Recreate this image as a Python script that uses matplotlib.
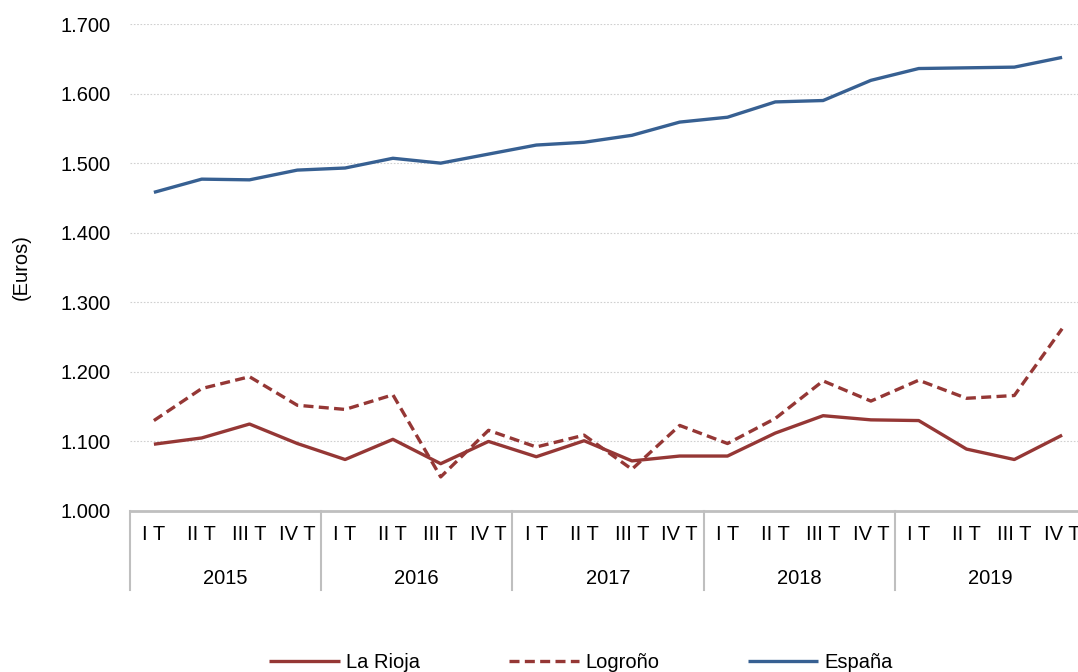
import matplotlib
matplotlib.use("Agg")
import matplotlib.pyplot as plt
import matplotlib.transforms as mtransforms
from matplotlib.ticker import FuncFormatter
import numpy as np

plt.rcParams['font.family'] = ['Liberation Sans', 'DejaVu Sans']

# Data (euros per quarter)
years = ["2015", "2016", "2017", "2018", "2019"]
quarters = ["I T", "II T", "III T", "IV T"]
la_rioja = [1096, 1105, 1125, 1097, 1074, 1103, 1068, 1100, 1078, 1101,
            1072, 1079, 1079, 1112, 1137, 1131, 1130, 1089, 1074, 1109]
logrono = [1130, 1176, 1193, 1152, 1146, 1167, 1049, 1116, 1092, 1109,
           1060, 1123, 1097, 1133, 1187, 1158, 1188, 1162, 1166, 1262]
espana = [1458, 1477, 1476, 1490, 1493, 1507, 1500, 1513, 1526, 1530,
          1540, 1559, 1566, 1588, 1590, 1619, 1636, 1637, 1638, 1652]

red = "#953735"
blue = "#376092"
grey = "#bfbfbf"
fs = 14.5

fig = plt.figure(figsize=(10.78, 6.72), dpi=100)
ax = fig.add_axes([130 / 1078, 1 - 511 / 672, 956 / 1078, 487 / 672])

x = np.arange(len(espana))
ax.plot(x, la_rioja, color=red, lw=2.4, label="La Rioja", solid_capstyle="butt")
ax.plot(x, logrono, color=red, lw=2.4, ls=(0, (3, 1.6)), label="Logroño")
ax.plot(x, espana, color=blue, lw=2.4, label="España", solid_capstyle="butt")

ax.set_xlim(-0.5, len(espana) - 0.5)
ax.set_ylim(1000, 1700)
ax.set_yticks(np.arange(1000, 1701, 100))
ax.yaxis.set_major_formatter(FuncFormatter(lambda v, p: f"{v / 1000:.3f}"))
ax.tick_params(axis="y", length=0, pad=14, labelsize=fs)
ax.set_xticks([])
ax.grid(axis="y", color="#d0d0d0", ls=(0, (1.5, 1.5)), lw=0.8)
ax.set_axisbelow(True)

for s in ["top", "right", "left"]:
    ax.spines[s].set_visible(False)
ax.spines["bottom"].set_color(grey)
ax.spines["bottom"].set_linewidth(2)

ax.set_ylabel("(Euros)", fontsize=fs)
ax.yaxis.set_label_coords(-0.104, 0.5)

# two-level category axis
trans = mtransforms.blended_transform_factory(ax.transData, ax.transAxes)
for i, yr in enumerate(years):
    for j, q in enumerate(quarters):
        ax.text(i * 4 + j, -0.049, q, transform=trans, ha="center", va="center",
                fontsize=fs, clip_on=False)
    ax.text(i * 4 + 1.5, -0.138, yr, transform=trans, ha="center", va="center",
            fontsize=fs, clip_on=False)
for i in range(len(years) + 1):
    ax.plot([i * 4 - 0.5] * 2, [0, -0.162], transform=trans, color=grey,
            lw=1.5, clip_on=False)

fig.legend(loc="center", bbox_to_anchor=(581 / 1078, 9 / 672), ncol=3,
           frameon=False, fontsize=fs, handlelength=3.5, handletextpad=0.3,
           columnspacing=4.4)

fig.savefig("out.png", dpi=100)
